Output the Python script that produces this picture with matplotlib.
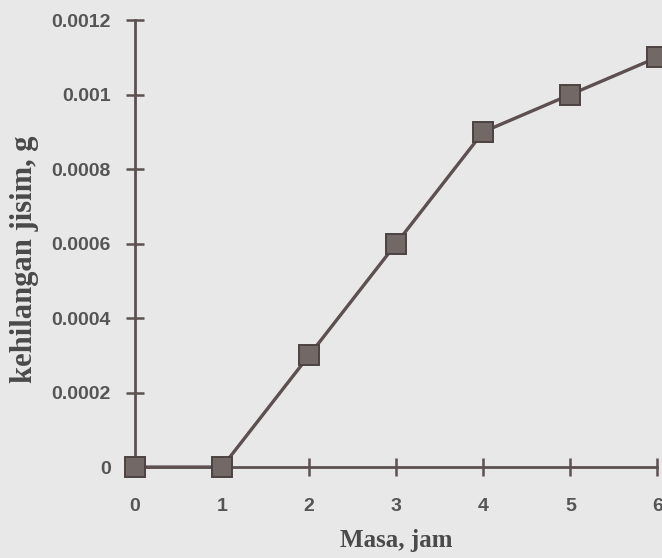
import matplotlib
matplotlib.use('Agg')
import matplotlib.pyplot as plt

# Data
masa_jam = [0, 1, 2, 3, 4, 5, 6]
kehilangan = [0, 0, 0.0003, 0.0006, 0.0009, 0.001, 0.0011]
x_ticks = [0, 1, 2, 3, 4, 5, 6]
y_ticks = [0, 0.0002, 0.0004, 0.0006, 0.0008, 0.001, 0.0012]
y_ticklabels = ['0', '0.0002', '0.0004', '0.0006', '0.0008', '0.001', '0.0012']

BG = '#e9e8e8'
LINE = '#5c5051'
TICK_TXT = '#555555'

fig = plt.figure(figsize=(6.62, 5.58), dpi=100, facecolor=BG)
ax = fig.add_axes([0.204, 0.163, 0.789, 0.801])
ax.set_facecolor(BG)

ax.plot(masa_jam, kehilangan, color=LINE, linewidth=2.4,
        marker='s', markersize=15, markerfacecolor='#726866',
        markeredgecolor='#4c4242', markeredgewidth=1.4, clip_on=False, zorder=5)

ax.set_xlim(0, 6)
ax.set_ylim(0, 0.0012)
ax.set_xticks(x_ticks)
ax.set_yticks(y_ticks)
ax.set_yticklabels(y_ticklabels)

for s in ['top', 'right']:
    ax.spines[s].set_visible(False)
for s in ['left', 'bottom']:
    ax.spines[s].set_color(LINE)
    ax.spines[s].set_linewidth(2.0)

ax.tick_params(direction='inout', length=13, width=1.8, color=LINE,
               labelcolor=TICK_TXT)
ax.tick_params(axis='x', pad=16)
ax.tick_params(axis='y', pad=11)
for lab in ax.get_xticklabels() + ax.get_yticklabels():
    lab.set_fontfamily('Liberation Sans')
    lab.set_fontweight('bold')
    lab.set_fontsize(14)

ax.set_xlabel('Masa, jam', family='Liberation Serif', fontweight='bold',
              fontsize=18, color='#4a4a4a', labelpad=10)
ax.set_ylabel('kehilangan jisim, g', family='Liberation Serif', fontweight='bold',
              fontsize=22, color='#4a4a4a')
# label sits a bit below the axis centre in the original
ax.yaxis.set_label_coords(-0.183, 0.465)

fig.savefig('out.png', dpi=100, facecolor=BG)
